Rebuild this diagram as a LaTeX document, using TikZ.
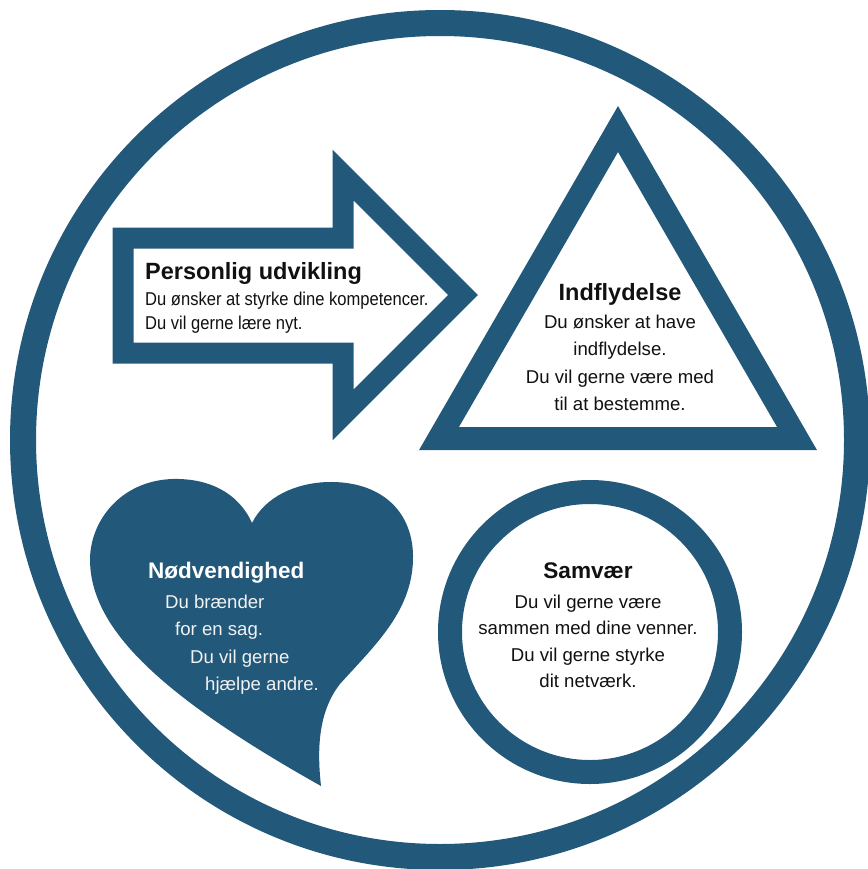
\documentclass[tikz,border=0pt]{standalone}
\usepackage{fontspec}
\setmainfont{Liberation Sans}
\newfontfamily\narrowfont[FakeStretch=0.89]{Liberation Sans}
\definecolor{mainblue}{HTML}{22587A}
\definecolor{inktext}{HTML}{111111}
\begin{document}
\begin{tikzpicture}[x=1pt,y=-1pt,
  ring/.style={draw=mainblue, line join=miter},
  ttl/.style={inner sep=0pt, text=inktext, font=\fontsize{23.5}{28}\selectfont\bfseries},
  txt/.style={inner sep=0pt, text=inktext, font=\fontsize{18.6}{24}\selectfont},
  ntxt/.style={inner sep=0pt, text=inktext, font=\fontsize{18.6}{24}\narrowfont},
  wttl/.style={ttl, text=white, font=\fontsize{22.5}{28}\selectfont\bfseries},
  wtxt/.style={txt, text=white!95!black}]
\useasboundingbox (0,0) rectangle (867,869);
\fill[white] (0,0) rectangle (867,869);

% outer circle
\draw[ring, line width=26pt] (440,440) circle[radius=417pt];

% arrow
\draw[ring, line width=21pt] (123,238) -- (343,238) -- (343,175) -- (463,295)
  -- (343,415) -- (343,353) -- (123,353) -- cycle;

% triangle
\draw[ring, line width=23pt] (618,129) -- (797,438.5) -- (439,438.5) -- cycle;

% small circle
\draw[ring, line width=24pt] (590,632) circle[radius=140pt];

% heart
\fill[mainblue] (252,523) .. controls (238,492) and (208,478) .. (172,479)
  .. controls (120,481) and (89,522) .. (90,562)
  .. controls (92,625) and (150,690) .. (321,786)
  .. controls (317,750) and (318,712) .. (340,684)
  .. controls (375,645) and (414,610) .. (413,555)
  .. controls (412,510) and (380,481) .. (328,482)
  .. controls (295,483) and (265,497) .. (252,523) -- cycle;

% arrow text
\node[ttl, anchor=base west] (pu) at (145,279) {Personlig udvikling};
\node[ntxt, anchor=base west] (pu1) at (145,305.5) {Du ønsker at styrke dine kompetencer.};
\node[ntxt, anchor=base west] (pu2) at (145,329) {Du vil gerne lære nyt.};

% triangle text
\node[ttl, anchor=base] (ind) at (620,300) {Indflydelse};
\node[txt, anchor=base] (ind1) at (620,328) {Du ønsker at have};
\node[txt, anchor=base] (ind2) at (620,355) {indflydelse.};
\node[txt, anchor=base] (ind3) at (620,383) {Du vil gerne være med};
\node[txt, anchor=base] (ind4) at (620,410) {til at bestemme.};

% heart text
\node[wttl, anchor=base west] (nd) at (148,578) {Nødvendighed};
\node[wtxt, anchor=base west] (nd1) at (165,608) {Du brænder};
\node[wtxt, anchor=base west] (nd2) at (175,635) {for en sag.};
\node[wtxt, anchor=base west] (nd3) at (190,663) {Du vil gerne};
\node[wtxt, anchor=base west] (nd4) at (205,690) {hjælpe andre.};

% circle text
\node[ttl, anchor=base, font=\fontsize{22.6}{28}\selectfont\bfseries] (sv) at (588,578) {Samvær};
\node[txt, anchor=base] (sv1) at (588,608) {Du vil gerne være};
\node[txt, anchor=base] (sv2) at (588,634) {sammen med dine venner.};
\node[txt, anchor=base] (sv3) at (588,661) {Du vil gerne styrke};
\node[txt, anchor=base] (sv4) at (588,687) {dit netværk.};
\end{tikzpicture}
\end{document}
